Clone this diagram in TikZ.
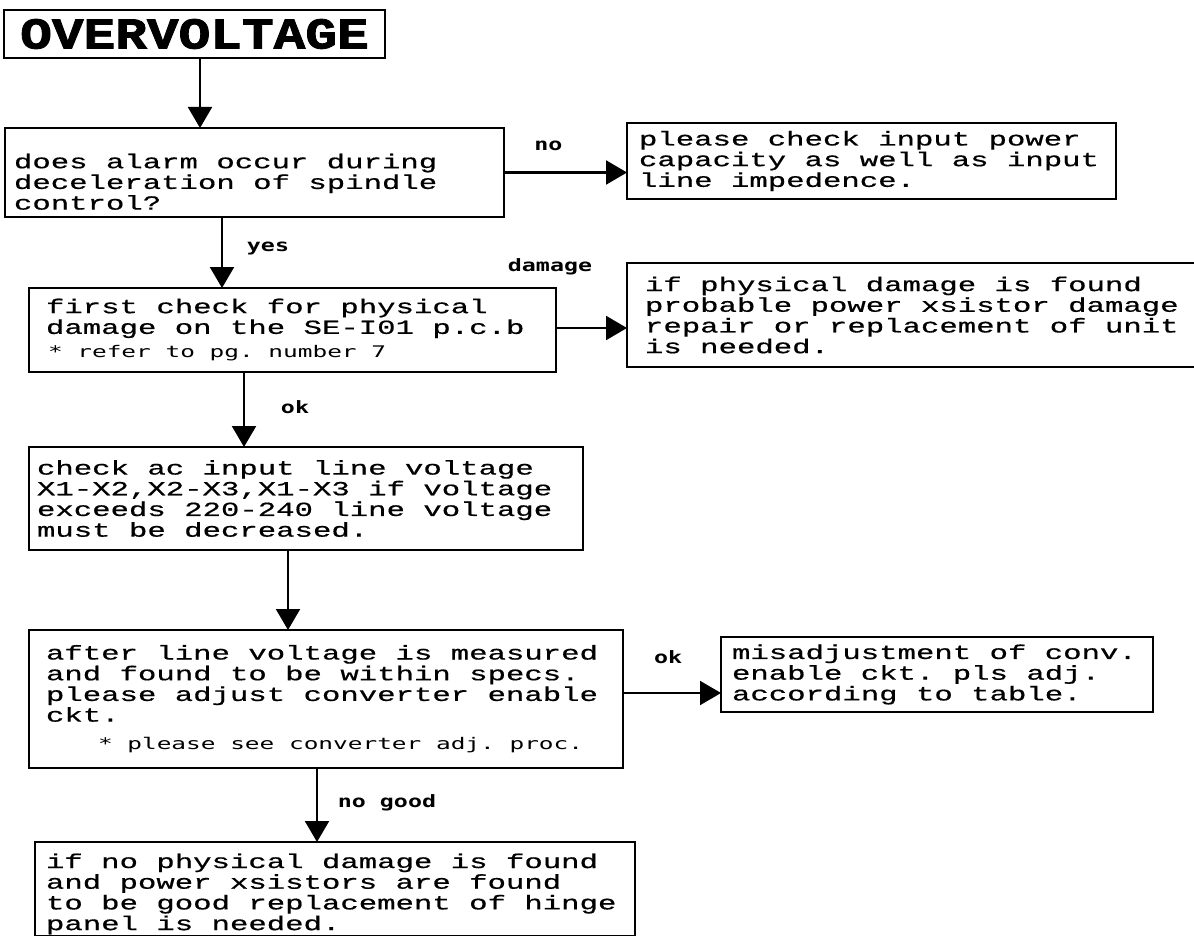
\documentclass[tikz,border=0pt]{standalone}
\usepackage{fontspec}
\usetikzlibrary{arrows.meta, positioning}

\newfontfamily\boxfont[FakeStretch=1.5333, FakeBold=0.6]{Liberation Mono}
\newfontfamily\headfont[FakeStretch=1.2, BoldFeatures={FakeBold=2}]{Liberation Mono}
\newfontfamily\tagfont[FakeStretch=1.37]{DejaVu Sans Mono}
\newfontfamily\notefont[FakeStretch=1.526]{DejaVu Sans Mono}

\begin{document}
\begin{tikzpicture}[
      box/.style={draw, line width=2.6pt, outer sep=0pt, align=flush left, inner ysep=2pt,
        font={\boxfont\fontsize{20pt}{20.7pt}\selectfont\lineskiplimit=-20pt\frenchspacing
          \spaceskip=18.4pt\xspaceskip=18.4pt}},
      headbox/.style={draw, line width=2.6pt, outer sep=0pt, inner sep=0pt, minimum width=381pt, minimum height=48pt,
        font={\headfont\bfseries\fontsize{44pt}{44pt}\selectfont}},
      tag/.style={inner sep=0pt, font={\tagfont\bfseries\fontsize{17pt}{17pt}\selectfont\spaceskip=14pt}},
      arrow/.style={-{Triangle[length=21pt, width=24pt]}, line width=2.2pt}
  ]
    \path[use as bounding box, fill=white] (0,0) rectangle (1194pt,-936pt);

    \node[headbox, anchor=north west] (title) at (4pt,-10pt) {OVERVOLTAGE};

    \node[box, below=70pt of title.south west, anchor=north west, xshift=1pt,
      minimum width=499pt, minimum height=89pt, text width=481pt, inner xsep=9pt] (q1)
      {\rule{0pt}{33pt}does alarm occur during\\deceleration of spindle\\control?};
    \node[box, right=123pt of q1.north east, anchor=north west, yshift=5pt,
      minimum width=489pt, minimum height=76pt, text width=465pt, inner xsep=12pt] (please)
      {please check input power\\capacity as well as input\\line impedence.};

    \node[box, below=71pt of q1.south west, anchor=north west, xshift=24pt,
      minimum width=527pt, minimum height=84pt, text width=493pt, inner xsep=17pt] (q2)
      {first check for physical\\damage on the SE-I01 p.c.b\par
       {\notefont\fontsize{16pt}{24pt}\selectfont\spaceskip=14.7pt\hspace*{2pt}* refer to pg. number 7\par}};
    \node[box, right=71pt of q2.north east, anchor=north west, yshift=25pt,
      minimum width=580pt, minimum height=104pt, text width=544pt, inner xsep=18pt] (dmg)
      {if physical damage is found\\probable power xsistor damage\\repair or replacement of unit\\is needed.};

    \node[box, below=75pt of q2.south west, anchor=north west,
      minimum width=554pt, minimum height=103pt, text width=538pt, inner xsep=8pt] (volt)
      {check ac input line voltage\\X1-X2,X2-X3,X1-X3 if voltage\\exceeds 220-240 line voltage\\must be decreased.};

    \node[box, below=80pt of volt.south west, anchor=north west,
      minimum width=594pt, minimum height=138pt, text width=560pt, inner xsep=17pt] (adjust)
      {after line voltage is measured\\and found to be within specs.\\please adjust converter enable\\ckt.\par
       {\notefont\fontsize{16pt}{28pt}\selectfont\spaceskip=14.7pt\hspace*{52pt}* please see converter adj. proc.\par}};
    \node[box, right=98pt of adjust.north east, anchor=north west, yshift=-7pt,
      minimum width=432pt, minimum height=75pt, text width=410pt, inner xsep=11pt] (misadj)
      {misadjustment of conv.\\enable ckt. pls adj.\\according to table.};

    \node[box, below=74pt of adjust.south west, anchor=north west, xshift=6pt,
      minimum width=600pt, minimum height=91pt, text width=578pt, inner xsep=11pt] (hinge)
      {\rule{0pt}{24pt}if no physical damage is found\\and power xsistors are found\\to be good replacement of hinge\\panel is needed.};

    \draw[arrow] ([xshift=5.5pt]title.south) -- ([xshift=5.5pt]title.south |- q1.north);
    \draw[arrow] (q1.east) -- (q1.east -| please.west)
      node[tag, pos=0.36, yshift=27pt] (lno) {no};
    \draw[arrow] ([xshift=-32.5pt]q1.south) -- ([xshift=-32.5pt]q1.south |- q2.north)
      node[tag, pos=0.45, xshift=46pt] (lyes) {yes};
    \draw[arrow] ([yshift=2pt]q2.east) -- ([yshift=2pt]q2.east -| dmg.west)
      node[tag, pos=0, xshift=-6pt, yshift=61pt] (ldmg) {damage};
    \draw[arrow] ([xshift=-48.5pt]q2.south) -- ([xshift=-48.5pt]q2.south |- volt.north)
      node[tag, pos=0.47, xshift=51pt] (lok) {ok};
    \draw[arrow] ([xshift=-18pt]volt.south) -- ([xshift=-18pt]volt.south |- adjust.north);
    \draw[arrow] ([yshift=6pt]adjust.east) -- ([yshift=6pt]adjust.east -| misadj.west)
      node[tag, pos=0.46, yshift=36pt] (lokb) {ok};
    \draw[arrow] ([xshift=-9pt]adjust.south) -- ([xshift=-9pt]adjust.south |- hinge.north)
      node[tag, pos=0.47, xshift=70pt] (lnogood) {no good};
  \end{tikzpicture}
\end{document}
